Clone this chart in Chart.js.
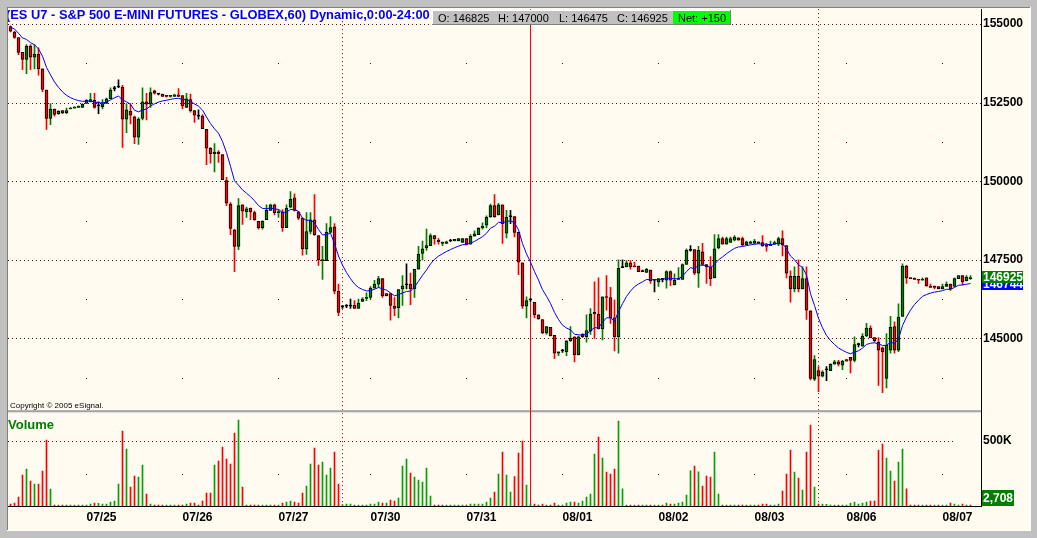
<!DOCTYPE html>
<html>
<head>
<meta charset="utf-8">
<title>ES U7 - S&amp;P 500 E-MINI FUTURES, 60 min</title>
<script src="https://cdn.jsdelivr.net/npm/chart.js"></script>
<style>
  body { margin: 0; background: #c0c0c0; }
  canvas { display: block; }
</style>
</head>
<body>
<canvas id="es-chart" width="1037" height="538"></canvas>
<script>
// hourly bars 07/24 .. 08/07, one entry per bar
const opens = [
  154925,154750,154575,154100,153875,154300,153950,154050,153575,152900,
  152000,152300,152150,152250,152175,152300,152325,152350,152350,152475,
  152525,152575,152400,152375,152475,152625,152950,153000,153000,151975,
  152225,152050,151400,152000,152525,152450,152875,152775,152775,152725,
  152700,152700,152750,152725,152350,152600,152250,152075,152075,151650,
  151050,150875,150925,150850,150025,149275,148450,147925,149250,149025,
  149150,149000,148725,148525,148775,149075,149250,149000,149025,148525,
  149175,149475,149025,148825,147850,148400,148775,148275,147475,147475,
  148375,148550,146500,146000,146025,146025,146050,145950,146175,146275,
  146300,146600,146725,146900,146425,146425,146025,145975,146575,146700,
  146725,146575,147200,147700,147875,147950,148275,148125,148025,148025,
  148100,148100,148100,148050,148175,148000,148250,148300,148525,148600,
  148875,149225,148925,149250,148350,148875,148875,148375,147400,146025,
  146225,146150,145750,145600,145175,145350,145100,144525,144600,144575,
  144925,145050,144475,145125,145050,145225,145825,145775,145300,146325,
  146300,145650,145050,147250,147275,147400,147300,147300,147125,147100,
  147175,146850,146800,146875,146850,147125,146700,146875,146875,147350,
  147800,147825,147075,147750,147350,147275,146925,147875,148175,148000,
  148050,148125,148200,148175,147975,148025,148025,148025,148050,147950,
  147950,148000,148000,148175,147950,146975,146575,146975,146575,146900,
  145875,143700,143975,143800,144000,143975,144175,144250,144150,144325,
  144400,144300,144800,144750,145075,145325,145025,144875,144700,143725,
  144625,145375,144625,145700,147300,146925,146900,146875,146850,146925,
  146650,146650,146650,146575,146650,146725,146650,146900,147000,146825,
  146900
];
const highs = [
  154950,154775,154575,154100,154350,154350,154350,154250,153575,152900,
  152475,152300,152250,152250,152325,152350,152375,152400,152475,152600,
  152800,152800,152525,152600,152650,152975,153025,153225,153050,152475,
  152475,152075,152025,152975,152800,152975,152900,152800,152775,152725,
  152725,152775,152950,152725,152800,152775,152250,152275,152125,151650,
  151075,151200,150975,150850,150125,149325,148475,149450,149250,149175,
  149150,149050,148725,148750,149250,149275,149275,149100,149100,149250,
  149675,149600,149025,148825,149000,149000,149575,148275,147925,148650,
  148875,148650,146725,146050,146075,146250,146200,146250,146300,146450,
  146650,146850,146975,146900,146425,146425,146300,146550,147000,147375,
  147075,147200,147925,148100,148475,148325,148275,148175,148075,148100,
  148150,148150,148175,148175,148175,148300,148425,148525,148675,148900,
  149275,149575,149300,149250,149075,149075,148875,148375,147400,146325,
  146275,146150,145750,145600,145375,145350,145100,144575,144650,144925,
  145375,145050,145075,145150,145750,145950,146800,146925,146325,147000,
  146625,146225,147500,147500,147475,147475,147425,147300,147175,147225,
  147175,146850,146900,146900,147150,147150,147050,147250,147375,147850,
  147950,147825,147925,148025,147350,147600,148300,148300,148225,148225,
  148225,148275,148200,148225,148100,148100,148150,148075,148275,148025,
  148100,148100,148225,148425,147950,147150,147275,147500,147275,147275,
  145875,144450,144100,143975,144100,144200,144300,144300,144300,144325,
  144400,145050,144850,145150,145475,145400,145025,145025,144725,145150,
  145700,145525,146100,147375,147325,146925,146925,146875,146925,146925,
  146725,146675,146650,146725,146800,146725,146925,147000,147000,147000,
  147000
];
const lows = [
  154750,154550,154025,153550,153425,153550,153575,153375,152850,151650,
  151800,152075,152125,152150,152150,152300,152325,152350,152350,152475,
  152525,152325,152150,152300,152475,152625,152875,152975,151075,151550,
  151825,151200,151175,151950,151950,152350,152775,152750,152700,152675,
  152675,152700,152700,152300,152350,152200,151875,151975,151675,150525,
  150575,150300,150600,150050,149225,148300,147125,147825,148625,148850,
  148775,148750,148475,148475,148775,149075,148925,148850,148400,148525,
  149150,149050,148775,147650,147675,148325,148275,147325,146875,147475,
  148375,146425,145725,145950,145975,145950,145950,145950,146175,146200,
  146250,146600,146625,146300,146350,145575,145725,145650,146050,146575,
  146075,146300,147200,147500,147800,147950,148000,148000,147950,148025,
  148075,148100,148100,148050,147975,148000,148250,148300,148475,148525,
  148850,148850,148925,148025,148200,148650,148225,147025,145950,145650,
  146175,145650,145600,145150,145125,145075,144350,144450,144550,144450,
  144900,144250,144475,145025,144875,145125,145000,145300,144950,145900,
  145475,144600,144525,147250,147275,147200,147275,147125,147125,147100,
  146750,146475,146650,146800,146600,146675,146700,146875,146875,147350,
  147775,147025,146625,147325,146750,146675,146925,147850,148000,148000,
  148050,148100,148125,147950,147975,148025,148025,148025,147925,147775,
  147950,148000,147950,147625,146925,146150,146475,146475,146575,145600,
  143675,143650,143300,143775,143650,143975,144175,144125,144000,144275,
  143900,144250,144725,144750,145050,145025,144875,143500,143275,143425,
  144525,144525,144575,145700,146750,146900,146875,146750,146850,146650,
  146625,146575,146575,146575,146650,146525,146650,146900,146700,146825,
  146875
];
const closes = [
  154775,154575,154100,153875,154300,153950,154050,153575,152925,152000,
  152300,152125,152225,152175,152250,152325,152350,152375,152450,152575,
  152600,152350,152400,152475,152625,152900,152950,153000,151975,152275,
  152100,151400,151975,152525,152450,152825,152800,152775,152700,152700,
  152725,152750,152700,152400,152625,152250,152100,152075,151675,151050,
  150875,150925,150875,150050,149300,148500,147925,149225,149050,149125,
  149025,148775,148525,148725,149075,149250,149000,149025,148525,149150,
  149425,149075,148825,147850,148400,148775,148300,147500,147500,148375,
  148525,146500,145825,146000,146025,146025,145950,146125,146250,146300,
  146600,146725,146900,146350,146350,146050,145950,146550,146675,146700,
  146575,147200,147675,147850,147950,148275,148175,148075,148050,148075,
  148100,148150,148175,148175,148000,148250,148325,148500,148575,148850,
  149225,148875,149250,148650,148850,148875,148375,147425,146025,146200,
  146225,145750,145625,145175,145375,145075,144525,144575,144600,144925,
  145000,144475,145050,145050,145250,145775,145775,145300,146325,146300,
  145650,145050,147225,147250,147400,147275,147275,147125,147125,147200,
  146825,146850,146900,146875,147125,146850,146850,146900,147350,147800,
  147800,147075,147800,147350,147275,146900,147850,148175,148000,148175,
  148175,148225,148125,147975,148075,148075,148100,148075,147950,147925,
  147975,148050,148175,147975,147075,146575,146975,146575,146900,145900,
  143725,144325,143800,143925,144000,144175,144250,144175,144275,144275,
  144300,144800,144800,145075,145325,145025,144925,144625,144575,144775,
  145350,144625,145675,147300,146925,146900,146875,146850,146875,146675,
  146625,146625,146575,146650,146725,146575,146900,147000,146800,146950,
  146925
];
const volumes = [
  15000,23000,69000,238000,285000,192000,169000,169000,269000,508000,
  131000,8000,8000,8000,8000,8000,8000,8000,8000,8000,
  15000,23000,20000,15000,15000,31000,38000,169000,577000,438000,
  146000,231000,223000,315000,92000,15000,6000,6000,6000,6000,
  6000,6000,6000,8000,15000,23000,23000,8000,38000,100000,
  100000,315000,346000,454000,362000,323000,562000,662000,146000,6000,
  6000,6000,6000,6000,6000,6000,6000,6000,23000,31000,
  38000,31000,23000,100000,154000,323000,446000,315000,338000,238000,
  292000,415000,169000,10000,15000,15000,6000,6000,6000,6000,
  15000,15000,31000,23000,23000,46000,38000,62000,308000,362000,
  254000,223000,200000,185000,292000,77000,6000,6000,6000,6000,
  6000,6000,6000,6000,6000,15000,15000,15000,15000,31000,
  62000,108000,246000,415000,238000,108000,226000,408000,500000,162000,
  12000,15000,5000,15000,5000,5000,23000,5000,5000,23000,
  31000,31000,23000,38000,69000,92000,400000,531000,369000,262000,
  246000,285000,654000,133000,5000,5000,5000,5000,5000,5000,
  5000,5000,5000,5000,23000,15000,15000,23000,31000,85000,
  272000,308000,264000,154000,231000,223000,415000,92000,5000,5000,
  5000,5000,5000,5000,5000,5000,5000,5000,15000,15000,
  5000,5000,15000,115000,246000,431000,262000,215000,123000,415000,
  623000,146000,15000,15000,13000,5000,5000,5000,5000,5000,
  23000,31000,15000,23000,31000,38000,38000,431000,477000,369000,
  269000,192000,338000,438000,133000,5000,5000,5000,5000,5000,
  5000,5000,5000,5000,5000,23000,15000,8000,15000,8000,
  2708
];
// blue moving average
const maValues = [
  154900,154845,154710,154560,154515,154410,154345,154210,153980,153625,
  153385,153160,152990,152845,152735,152660,152605,152565,152545,152550,
  152560,152520,152500,152495,152520,152590,152655,152715,152585,152530,
  152450,152260,152210,152265,152300,152395,152465,152520,152555,152580,
  152605,152630,152645,152600,152605,152540,152460,152390,152265,152045,
  151835,151670,151530,151265,150910,150475,150015,149875,149725,149620,
  149510,149380,149225,149135,149125,149150,149120,149105,149000,149025,
  149100,149095,149045,148830,148755,148760,148675,148465,148290,148305,
  148345,148015,147620,147330,147095,146900,146730,146620,146555,146510,
  146525,146560,146620,146575,146535,146445,146355,146390,146445,146490,
  146505,146630,146820,147005,147175,147370,147515,147615,147695,147765,
  147825,147885,147935,147980,147985,148030,148085,148160,148235,148345,
  148505,148570,148695,148685,148715,148745,148680,148455,148015,147690,
  147425,147125,146855,146550,146340,146110,145825,145600,145420,145330,
  145270,145130,145115,145100,145130,145245,145340,145335,145510,145655,
  145655,145545,145850,146100,146335,146505,146645,146730,146800,146875,
  146865,146865,146870,146870,146915,146905,146895,146895,146980,147125,
  147250,147220,147325,147330,147320,147245,147355,147500,147590,147695,
  147785,147865,147910,147925,147950,147975,147995,148010,148000,147990,
  147985,148000,148030,148020,147850,147620,147505,147340,147260,147015,
  146420,146045,145640,145335,145095,144930,144805,144695,144620,144555,
  144510,144565,144605,144690,144805,144845,144860,144820,144775,144775,
  144880,144835,144985,145405,145680,145900,146075,146215,146335,146395,
  146440,146475,146490,146520,146560,146560,146620,146690,146700,146725,
  146744
];

const dayTicks = [19, 43, 67, 90, 114, 138, 162, 186, 209, 233];
const dayLabels = ['07/25', '07/26', '07/27', '07/30', '07/31', '08/01', '08/02', '08/03', '08/06', '08/07'];
const priceTicks = [145000, 147500, 150000, 152500, 155000];
const priceDots = [143750, 146250, 148750, 151250, 153750];
const volumeTicks = [500000];
const volumeDots = [250000];
const weekBreaks = [83, 202];
const cursorBar = 130;

const title = '(ES U7 - S&P 500 E-MINI FUTURES - GLOBEX,60) Dynamic,0:00-24:00';
const quote = ['O: 146825', 'H: 147000', 'L: 146475', 'C: 146925'];
const netChange = 'Net: +150';

const FONT = '"Liberation Sans", Arial, sans-serif';
const UP = '#008000', DOWN = '#ff0000', VOL_UP = '#00a000';
const last = closes.length - 1;

const candleColor = i => closes[i] > opens[i] ? UP : (closes[i] < opens[i] ? DOWN : '#000000');
const volumeColor = i => (i > 0 && closes[i] >= closes[i - 1]) ? VOL_UP : DOWN;

// grid dots, separators, frame and the text overlays eSignal puts on the chart
const panes = {
  id: 'panes',
  beforeDraw(chart) {
    const c = chart.ctx;
    c.save();
    c.fillStyle = '#c0c0c0';
    c.fillRect(0, 0, chart.width, chart.height);
    c.fillStyle = '#fffbf0';
    c.fillRect(8, 8, 1022, 522);
    c.fillStyle = '#808080';
    c.fillRect(7, 7, 1023, 1);
    c.fillRect(7, 7, 1, 523);
    c.fillStyle = '#ffffff';
    c.fillRect(7, 530, 1024, 1);
    c.fillRect(1030, 7, 1, 524);
    c.restore();
  },
  beforeDatasetsDraw(chart) {
    const c = chart.ctx;
    const { x, y, yv } = chart.scales;
    const area = chart.chartArea;
    const px = i => Math.floor(x.getPixelForValue(i)) + 0.5;
    c.save();
    c.strokeStyle = '#800000';
    c.lineWidth = 1;
    c.setLineDash([1, 3]);
    c.beginPath();
    priceTicks.forEach(v => {
      const py = Math.round(y.getPixelForValue(v)) + 0.5;
      c.moveTo(area.left, py); c.lineTo(area.right, py);
    });
    volumeTicks.forEach(v => {
      const py = Math.round(yv.getPixelForValue(v)) + 0.5;
      c.moveTo(area.left, py); c.lineTo(area.right - 28, py);
    });
    weekBreaks.forEach(i => {
      c.moveTo(px(i), area.top); c.lineTo(px(i), area.bottom);
    });
    c.stroke();
    c.setLineDash([]);

    c.fillStyle = '#800000';
    dayTicks.forEach(i => {
      const dx = Math.floor(x.getPixelForValue(i));
      priceDots.forEach(v => c.fillRect(dx, Math.round(y.getPixelForValue(v)), 1, 1));
      volumeDots.forEach(v => c.fillRect(dx, Math.round(yv.getPixelForValue(v)), 1, 1));
    });

    // split between price and volume panes
    c.fillStyle = '#a0a0a0';
    c.fillRect(area.left, y.bottom - 2, area.right - area.left, 2);
    c.fillStyle = '#e4e4e4';
    c.fillRect(area.left, y.bottom, area.right - area.left, 1);

    c.strokeStyle = '#ff0000';
    c.beginPath();
    c.moveTo(px(cursorBar), area.top);
    c.lineTo(px(cursorBar), area.bottom);
    c.stroke();
    c.restore();
  },
  afterDraw(chart) {
    const c = chart.ctx;
    const { y, yv } = chart.scales;
    c.save();
    c.beginPath();
    c.rect(8, 8, 1022, 522);
    c.clip();
    c.textBaseline = 'alphabetic';

    // title squeezed to the width eSignal gives it (x 6..430)
    c.font = 'bold 13px ' + FONT;
    const size = 13 * 424 / c.measureText(title).width;
    c.font = 'bold ' + size.toFixed(2) + 'px ' + FONT;
    c.fillStyle = '#0000ff';
    c.fillText(title, 6, 19);

    // quote strip
    c.fillStyle = '#c0c0c0';
    c.fillRect(432, 10, 299, 15);
    c.fillStyle = '#ffffff';
    c.fillRect(432, 10, 299, 1);
    c.fillRect(432, 10, 1, 15);
    c.fillStyle = '#808080';
    c.fillRect(432, 24, 299, 1);
    c.fillRect(730, 10, 1, 15);
    c.fillStyle = '#00ff00';
    c.fillRect(673, 11, 57, 13);
    c.font = '11px ' + FONT;
    c.fillStyle = '#000000';
    [438, 498, 559, 617].forEach((qx, k) => c.fillText(quote[k], qx, 22));
    c.fillText(netChange, 678, 22);

    c.font = '8px ' + FONT;
    c.fillText('Copyright \u00a9 2005 eSignal.', 10, 408);

    c.font = 'bold 13px ' + FONT;
    c.fillStyle = '#008000';
    c.fillText('Volume', 8, 429);
    c.restore();

    // value tags on the right scale
    c.save();
    c.font = 'bold 12px ' + FONT;
    c.textBaseline = 'middle';
    const tag = (bg, text, top, w, h) => {
      c.fillStyle = bg;
      c.fillRect(982, top, w, h);
      c.fillStyle = '#ffffff';
      c.fillText(text, 983, top + h / 2 + 1);
    };
    const maY = Math.round(y.getPixelForValue(maValues[last]));
    tag('#0000ff', String(maValues[last]), maY - 6, 41, 12);
    const cY = Math.round(y.getPixelForValue(closes[last]));
    tag('#008000', String(closes[last]), cY - 7, 41, 12);
    const vY = Math.round(yv.getPixelForValue(volumes[last]));
    tag('#008000', volumes[last].toLocaleString('en-US'), Math.min(vY - 8, 490), 32, 16);
    c.restore();
  }
};

const axisFont = { family: FONT, size: 12, weight: 'bold' };

new Chart(document.getElementById('es-chart'), {
  type: 'bar',
  data: {
    datasets: [
      {
        type: 'line',
        data: maValues.map((v, i) => ({ x: i, y: v })),
        yAxisID: 'y',
        borderColor: '#0000ff',
        borderWidth: 1,
        pointRadius: 0,
        tension: 0,
        order: 0
      },
      {
        data: opens.map((o, i) => ({ x: i, y: [o, closes[i]] })),
        yAxisID: 'y',
        backgroundColor: ctx => candleColor(ctx.dataIndex),
        borderColor: '#000000',
        borderWidth: 1,
        borderSkipped: false,
        barThickness: 3,
        minBarLength: 1,
        grouped: false,
        barPercentage: 1,
        categoryPercentage: 1,
        order: 1
      },
      {
        data: lows.map((l, i) => ({ x: i, y: [l, highs[i]] })),
        yAxisID: 'y',
        backgroundColor: ctx => candleColor(ctx.dataIndex),
        barThickness: 1,
        grouped: false,
        barPercentage: 1,
        categoryPercentage: 1,
        order: 2
      },
      {
        data: volumes.map((v, i) => ({ x: i, y: v })),
        yAxisID: 'yv',
        backgroundColor: ctx => volumeColor(ctx.dataIndex),
        barThickness: 1,
        minBarLength: 1,
        grouped: false,
        barPercentage: 1,
        categoryPercentage: 1,
        order: 3
      }
    ]
  },
  options: {
    responsive: false,
    animation: false,
    events: [],
    layout: { padding: { left: 8, top: 8, right: 7, bottom: 8 } },
    plugins: { legend: { display: false }, tooltip: { enabled: false } },
    scales: {
      x: {
        type: 'linear',
        offset: false,
        min: -0.625,
        max: 242.625,
        grid: { display: false, drawTicks: false, offset: false },
        border: { display: true, color: '#000000' },
        ticks: {
          font: axisFont,
          color: '#000000',
          align: 'start',
          autoSkip: false,
          maxRotation: 0,
          minRotation: 0,
          padding: 4,
          callback: (v, i) => dayLabels[i]
        },
        afterBuildTicks: s => { s.ticks = dayTicks.map(v => ({ value: v })); },
        afterFit: s => { s.height = 24; }
      },
      y: {
        type: 'linear',
        position: 'right',
        stack: 'panes',
        stackWeight: 404,
        min: 142649,
        max: 155476,
        grid: { display: false, drawTicks: false },
        border: { display: true, color: '#000000' },
        ticks: { font: axisFont, color: '#000000', padding: 2, callback: v => String(v) },
        afterBuildTicks: s => { s.ticks = priceTicks.map(v => ({ value: v })); },
        afterFit: s => { s.width = 49; }
      },
      yv: {
        type: 'linear',
        position: 'right',
        stack: 'panes',
        stackWeight: 94,
        min: 0,
        max: 723000,
        grid: { display: false, drawTicks: false },
        border: { display: true, color: '#000000' },
        ticks: { font: axisFont, color: '#000000', padding: 2, callback: v => Math.round(v / 1000) + 'K' },
        afterBuildTicks: s => { s.ticks = volumeTicks.map(v => ({ value: v })); },
        afterFit: s => { s.width = 49; }
      }
    }
  },
  plugins: [panes]
});
</script>
</body>
</html>
